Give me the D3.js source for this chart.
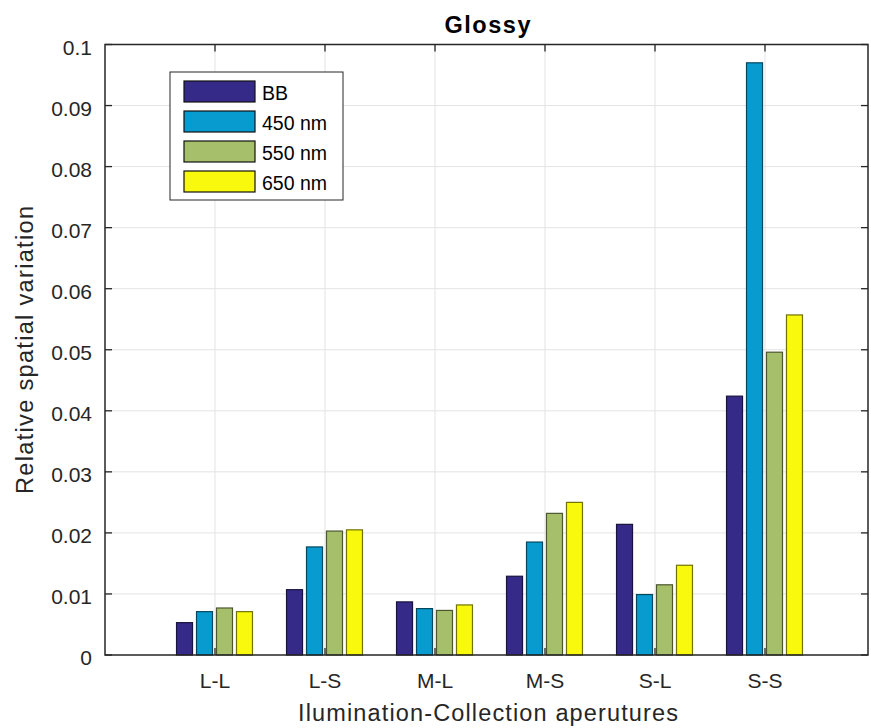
<!DOCTYPE html>
<html lang="en">
<head>
<meta charset="utf-8">
<title>Glossy</title>
<script src="https://cdnjs.cloudflare.com/ajax/libs/d3/7.8.5/d3.min.js"></script>
<style>
  body { margin: 0; background: #fff; }
  svg { font-family: "Liberation Sans", Arial, sans-serif; }
</style>
</head>
<body>
<svg id="chart" width="871" height="728"></svg>
<script>
// data
var categories = ["L-L", "L-S", "M-L", "M-S", "S-L", "S-S"];
var seriesNames = ["BB", "450 nm", "550 nm", "650 nm"];
var bb     = [0.0053, 0.0107, 0.0087, 0.0129, 0.0214, 0.0424];
var nm450  = [0.0071, 0.0177, 0.0076, 0.0185, 0.0099, 0.0970];
var nm550  = [0.0077, 0.0203, 0.0073, 0.0232, 0.0115, 0.0496];
var nm650  = [0.0071, 0.0205, 0.0082, 0.0250, 0.0147, 0.0557];
var yTicks = [0, 0.01, 0.02, 0.03, 0.04, 0.05, 0.06, 0.07, 0.08, 0.09, 0.1];
var yTickLabels = ["0", "0.01", "0.02", "0.03", "0.04", "0.05", "0.06", "0.07", "0.08", "0.09", "0.1"];
var colors = ["#352a87", "#079bcf", "#a6bf6a", "#f8f90c"];

var series = [bb, nm450, nm550, nm650];

// note: "top" is taken by window.top, so use plot* names
var plotLeft = 105, plotRight = 868, plotTop = 44.5, plotBottom = 655;
var svg = d3.select("#chart");

// x positions 1..6 are the groups, 110px apart
var x = d3.scaleLinear().domain([0, (plotRight - plotLeft) / 110]).range([plotLeft, plotRight]);
var y = d3.scaleLinear().domain([0, 0.1]).range([plotBottom, plotTop]);
var off = d3.scaleLinear().domain([0, 3]).range([-0.277, 0.268]);
var barW = 16;

// grid
svg.append("g").selectAll("line").data(yTicks.slice(1, -1)).enter().append("line")
  .attr("x1", plotLeft).attr("x2", plotRight)
  .attr("y1", d => y(d)).attr("y2", d => y(d))
  .style("stroke", "#e3e3e3").style("stroke-width", 1);
svg.append("g").selectAll("line").data(categories).enter().append("line")
  .attr("x1", (d, i) => x(i + 1)).attr("x2", (d, i) => x(i + 1))
  .attr("y1", plotTop).attr("y2", plotBottom)
  .style("stroke", "#e3e3e3").style("stroke-width", 1);

// inward ticks
var tk = svg.append("g").style("stroke", "#262626").style("stroke-width", 1.3);
yTicks.forEach(function(t) {
  tk.append("line").attr("x1", plotLeft).attr("x2", plotLeft + 7).attr("y1", y(t)).attr("y2", y(t));
  tk.append("line").attr("x1", plotRight - 7).attr("x2", plotRight).attr("y1", y(t)).attr("y2", y(t));
});
categories.forEach(function(c, i) {
  tk.append("line").attr("x1", x(i + 1)).attr("x2", x(i + 1)).attr("y1", plotBottom).attr("y2", plotBottom - 7);
  tk.append("line").attr("x1", x(i + 1)).attr("x2", x(i + 1)).attr("y1", plotTop).attr("y2", plotTop + 7);
});

// bars
series.forEach(function(vals, s) {
  svg.append("g").selectAll("rect").data(vals).enter().append("rect")
    .attr("x", (d, i) => x(i + 1 + off(s)) - barW / 2)
    .attr("width", barW)
    .attr("y", d => y(d))
    .attr("height", d => y(0) - y(d))
    .style("fill", colors[s])
    .style("stroke", d3.color(colors[s]).darker(2.2))
    .style("stroke-width", 1.2);
});

// axes box
svg.append("rect").attr("x", plotLeft).attr("y", plotTop)
  .attr("width", plotRight - plotLeft).attr("height", plotBottom - plotTop)
  .style("fill", "none").style("stroke", "#262626").style("stroke-width", 1.5);

// tick labels
svg.append("g").selectAll("text").data(yTicks).enter().append("text")
  .attr("x", plotLeft - 13).attr("y", d => y(d) + 10)
  .attr("text-anchor", "end").style("font-size", "21px").style("fill", "#262626")
  .text((d, i) => yTickLabels[i]);
svg.append("g").selectAll("text").data(categories).enter().append("text")
  .attr("x", (d, i) => x(i + 1)).attr("y", 688)
  .attr("text-anchor", "middle").style("font-size", "21px").style("fill", "#262626")
  .text(d => d);

// titles (reference font runs a bit wider than Liberation, hence textLength)
svg.append("text").attr("x", 487.5).attr("y", 33)
  .attr("text-anchor", "middle").style("font-size", "23.5px").style("font-weight", "bold")
  .attr("textLength", 86).attr("lengthAdjust", "spacing")
  .style("fill", "#000").text("Glossy");
svg.append("text").attr("x", 488).attr("y", 721)
  .attr("text-anchor", "middle").style("font-size", "23.5px").style("fill", "#262626")
  .attr("textLength", 380).attr("lengthAdjust", "spacing")
  .text("Ilumination-Collection aperutures");
svg.append("text").attr("transform", "translate(33,350) rotate(-90)")
  .attr("text-anchor", "middle").style("font-size", "23.5px").style("fill", "#262626")
  .attr("textLength", 288).attr("lengthAdjust", "spacing")
  .text("Relative spatial variation");

// legend
var lg = svg.append("g").attr("transform", "translate(170,72)");
lg.append("rect").attr("width", 173).attr("height", 128)
  .style("fill", "#fff").style("stroke", "#262626").style("stroke-width", 1);
seriesNames.forEach(function(n, i) {
  lg.append("rect").attr("x", 14).attr("y", 9 + i * 30).attr("width", 71).attr("height", 21)
    .style("fill", colors[i]).style("stroke", "#111").style("stroke-width", 1.2);
  lg.append("text").attr("x", 92).attr("y", 27.5 + i * 30)
    .style("font-size", "19.5px").style("fill", "#000").text(n);
});
</script>
</body>
</html>
